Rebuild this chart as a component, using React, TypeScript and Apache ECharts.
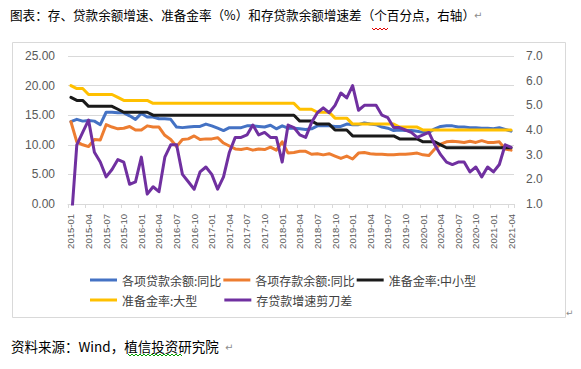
import React, { useEffect, useRef } from "react";
import * as echarts from "echarts";

const months = [
  "2015-01","2015-02","2015-03","2015-04","2015-05","2015-06","2015-07","2015-08","2015-09","2015-10","2015-11","2015-12",
  "2016-01","2016-02","2016-03","2016-04","2016-05","2016-06","2016-07","2016-08","2016-09","2016-10","2016-11","2016-12",
  "2017-01","2017-02","2017-03","2017-04","2017-05","2017-06","2017-07","2017-08","2017-09","2017-10","2017-11","2017-12",
  "2018-01","2018-02","2018-03","2018-04","2018-05","2018-06","2018-07","2018-08","2018-09","2018-10","2018-11","2018-12",
  "2019-01","2019-02","2019-03","2019-04","2019-05","2019-06","2019-07","2019-08","2019-09","2019-10","2019-11","2019-12",
  "2020-01","2020-02","2020-03","2020-04","2020-05","2020-06","2020-07","2020-08","2020-09","2020-10","2020-11","2020-12",
  "2021-01","2021-02","2021-03","2021-04",
];

const loanGrowth = [
  13.9,14.3,14.0,14.1,14.0,13.4,15.5,15.5,15.4,15.4,14.9,14.3,
  15.3,14.7,14.7,14.4,14.4,14.3,13.0,12.9,13.0,13.1,13.1,13.5,
  13.2,12.8,12.4,12.9,12.9,12.9,13.2,13.2,13.1,13.0,13.3,12.7,
  13.2,12.8,12.8,12.7,12.6,12.7,13.2,13.2,13.2,13.1,13.1,13.5,
  13.4,13.4,13.7,13.5,13.4,13.0,12.8,12.4,12.5,12.4,12.4,12.3,
  12.1,12.1,12.7,13.1,13.2,13.2,13.0,13.0,12.9,12.9,12.8,12.8,
  12.7,12.9,12.6,12.3,
];

const depositGrowth = [
  13.9,10.5,10.0,9.7,10.9,10.8,13.4,13.0,12.7,12.8,13.1,12.5,
  12.5,13.2,13.0,13.0,11.6,10.9,9.7,10.9,11.0,11.5,10.9,11.0,
  11.0,11.2,10.3,9.8,9.3,9.2,9.4,9.1,9.3,9.2,9.6,9.1,
  10.5,8.6,8.7,8.9,8.9,8.4,8.5,8.3,8.5,8.1,7.7,8.1,
  7.6,8.6,8.7,8.5,8.4,8.4,8.3,8.3,8.4,8.4,8.5,8.6,
  8.3,8.2,9.3,10.1,10.5,10.6,10.5,10.4,10.6,10.4,10.7,10.4,
  10.4,10.5,9.3,9.1,
];

const rrrSmallMedium = [
  18.0,17.5,17.5,16.5,16.5,16.5,16.5,16.5,16.0,15.5,15.5,15.5,
  15.5,15.5,15.0,15.0,15.0,15.0,15.0,15.0,15.0,15.0,15.0,15.0,
  15.0,15.0,15.0,15.0,15.0,15.0,15.0,15.0,15.0,15.0,15.0,15.0,
  15.0,15.0,15.0,14.0,14.0,14.0,13.5,13.5,13.5,12.5,12.5,12.5,
  11.5,11.5,11.5,11.5,11.5,11.5,11.5,11.5,11.0,11.0,11.0,11.0,
  10.5,10.5,10.5,10.0,9.5,9.5,9.5,9.5,9.5,9.5,9.5,9.5,
  9.5,9.5,9.5,9.5,
];

const rrrLarge = [
  20.0,19.5,19.5,18.5,18.5,18.5,18.5,18.5,18.0,17.5,17.5,17.5,
  17.5,17.5,17.0,17.0,17.0,17.0,17.0,17.0,17.0,17.0,17.0,17.0,
  17.0,17.0,17.0,17.0,17.0,17.0,17.0,17.0,17.0,17.0,17.0,17.0,
  17.0,17.0,17.0,16.0,16.0,16.0,15.5,15.5,15.5,14.5,14.5,14.5,
  13.5,13.5,13.5,13.5,13.5,13.5,13.5,13.5,13.0,13.0,13.0,13.0,
  12.5,12.5,12.5,12.5,12.5,12.5,12.5,12.5,12.5,12.5,12.5,12.5,
  12.5,12.5,12.5,12.5,
];

const loanDepositGap = [
  0.1,3.4,3.9,4.4,3.1,2.7,2.1,2.4,2.8,2.7,1.8,1.9,
  2.9,1.4,1.7,1.5,2.9,3.4,3.4,2.2,1.9,1.6,2.3,2.5,
  2.2,1.6,2.1,3.1,3.7,3.7,3.8,4.2,3.8,3.9,3.7,3.7,
  2.7,4.2,4.1,3.8,3.7,4.3,4.7,4.9,4.7,5.0,5.5,5.3,
  5.8,4.8,5.0,5.0,5.0,4.6,4.5,4.1,4.1,4.0,3.9,3.7,
  3.8,3.9,3.4,3.0,2.7,2.6,2.7,2.7,2.3,2.5,2.1,2.5,
  2.3,2.6,3.4,3.3,
];

const seriesNames = [
  "各项贷款余额:同比",
  "各项存款余额:同比",
  "准备金率:中小型",
  "准备金率:大型",
  "存贷款增速剪刀差",
];
const seriesColors = ["#4472C4", "#ED7D31", "#1a1a1a", "#FFC000", "#7030A0"];

const titleText = "图表：存、贷款余额增速、准备金率（%）和存贷款余额增速差（个百分点，右轴）";
const sourceText = "资料来源：Wind，植信投资研究院";

function squiggle(x0: number, x1: number, y: number) {
  const pts: number[][] = [];
  let up = true;
  for (let x = x0; x <= x1; x += 2) {
    pts.push([x, up ? y - 1 : y + 1]);
    up = !up;
  }
  return pts;
}

export default function App() {
  const ref = useRef<HTMLDivElement>(null);
  useEffect(() => {
    const chart = echarts.init(ref.current!, null, { renderer: "svg" });
    const dataSets = [loanGrowth, depositGrowth, rrrSmallMedium, rrrLarge, loanDepositGap];
    const lineSeries = dataSets.map((d, k) => ({
      name: seriesNames[k],
      type: "line",
      data: d,
      yAxisIndex: k === 4 ? 1 : 0,
      symbol: "none",
      smooth: false,
      clip: true,
      color: seriesColors[k],
      lineStyle: { width: 3, color: seriesColors[k], cap: "round", join: "round" },
      z: 2 + k,
    }));
    const legendText = { fontSize: 12, color: "#404040", fontFamily: "Noto Sans CJK SC" };
    chart.setOption({
      animation: false,
      textStyle: { fontFamily: "Noto Sans CJK SC" },
      grid: { left: 68, right: 67, top: 56, bottom: 165, containLabel: false },
      xAxis: {
        type: "category",
        data: months,
        boundaryGap: true,
        axisLine: { lineStyle: { color: "#d9d9d9", width: 1 } },
        axisTick: { show: true, interval: 2, length: 4, lineStyle: { color: "#d9d9d9" } },
        axisLabel: {
          interval: 2,
          rotate: 90,
          fontSize: 9.5,
          color: "#595959",
          margin: 10,
          fontFamily: "Liberation Sans",
        },
      },
      yAxis: [
        {
          type: "value",
          min: 0,
          max: 25,
          interval: 5,
          axisLine: { show: false },
          axisTick: { show: false },
          splitLine: { lineStyle: { color: "#d9d9d9", width: 1 } },
          axisLabel: {
            formatter: (v: number) => v.toFixed(2),
            fontSize: 12,
            color: "#595959",
            margin: 13,
            fontFamily: "Liberation Sans",
          },
        },
        {
          type: "value",
          min: 1,
          max: 7,
          interval: 1,
          position: "right",
          axisLine: { show: false },
          axisTick: { show: false },
          splitLine: { show: false },
          axisLabel: {
            formatter: (v: number) => v.toFixed(1),
            fontSize: 12,
            color: "#595959",
            margin: 12,
            fontFamily: "Liberation Sans",
          },
        },
      ],
      legend: [
        {
          data: seriesNames.slice(0, 3),
          left: 90,
          top: 274,
          padding: 0,
          icon: "rect",
          itemWidth: 27,
          itemHeight: 3,
          itemGap: 2,
          textStyle: legendText,
        },
        {
          data: seriesNames.slice(3),
          left: 90,
          top: 294,
          padding: 0,
          icon: "rect",
          itemWidth: 27,
          itemHeight: 3,
          itemGap: 27,
          textStyle: legendText,
        },
      ],
      series: lineSeries,
      graphic: [
        {
          type: "rect",
          shape: { x: 12.5, y: 42.5, width: 553, height: 275 },
          style: { fill: "none", stroke: "#d9d9d9", lineWidth: 1 },
          silent: true,
        },
        {
          type: "text",
          x: 10,
          y: 14,
          style: {
            text: titleText,
            fontSize: 12.6,
            fill: "#000",
            fontFamily: "Noto Sans CJK SC",
            textVerticalAlign: "middle",
          },
        },
        {
          type: "text",
          x: 474,
          y: 15,
          style: { text: "↵", fontSize: 10, fill: "#8c8c8c", fontFamily: "DejaVu Sans", textVerticalAlign: "middle" },
        },
        {
          type: "polyline",
          shape: { points: squiggle(372, 388, 29) },
          style: { stroke: "#e00000", lineWidth: 1, fill: "none" },
        },
        {
          type: "text",
          x: 11,
          y: 346,
          style: {
            text: sourceText,
            fontSize: 13.5,
            fill: "#000",
            fontFamily: "Noto Sans CJK SC",
            textVerticalAlign: "middle",
          },
        },
        {
          type: "text",
          x: 225,
          y: 347,
          style: { text: "↵", fontSize: 10, fill: "#8c8c8c", fontFamily: "DejaVu Sans", textVerticalAlign: "middle" },
        },
        {
          type: "polyline",
          shape: { points: squiggle(128, 182, 355) },
          style: { stroke: "#00a000", lineWidth: 1, fill: "none" },
        },
        {
          type: "text",
          x: 566,
          y: 313,
          style: { text: "↵", fontSize: 9, fill: "#8c8c8c", fontFamily: "DejaVu Sans", textVerticalAlign: "middle" },
        },
      ],
    });
    return () => chart.dispose();
  }, []);
  return (
    <div
      ref={ref}
      style={{ position: "absolute", left: 0, top: 0, width: 581, height: 369, background: "#fff" }}
    />
  );
}
